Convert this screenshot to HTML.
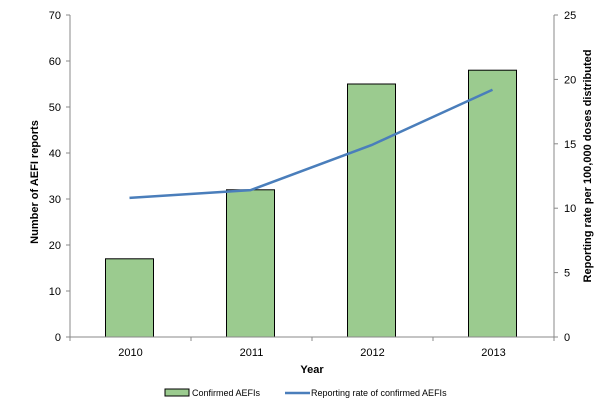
<!DOCTYPE html>
<html><head><meta charset="utf-8"><style>
body{margin:0;background:#fff;}
svg{display:block;font-family:"Liberation Sans",sans-serif;}
</style></head><body>
<svg id="chart" width="600" height="414" viewBox="0 0 600 414"></svg>
<script>
const categories=["2010","2011","2012","2013"];
const confirmedAEFIs=[17,32,55,58];
const reportingRate=[10.8,11.4,14.9,19.2];
const leftTicks=[0,10,20,30,40,50,60,70];
const rightTicks=[0,5,10,15,20,25];
const NS="http://www.w3.org/2000/svg";
const svg=document.getElementById('chart');
const X0=70,X1=554,Y0=337,Y1=15;
const band=(X1-X0)/categories.length;
const yL=v=>Y0-(v/70)*(Y0-Y1);
const yR=v=>Y0-(v/25)*(Y0-Y1);
const xC=i=>X0+band*(i+0.5);
function mk(tag,attrs,txt){const e=document.createElementNS(NS,tag);for(const k in attrs)e.setAttribute(k,attrs[k]);if(txt!=null)e.textContent=txt;svg.appendChild(e);return e;}
confirmedAEFIs.forEach((v,i)=>{
 const r=mk('rect',{x:xC(i)-25,y:yL(v),width:48,height:Y0-yL(v),fill:'#9bcb8f',stroke:'#000','stroke-width':1});
 
 
});
let a=mk('line',{x1:X0,y1:Y1,x2:X0,y2:Y0,stroke:'#888'});


a=mk('line',{x1:X1,y1:Y1,x2:X1,y2:Y0,stroke:'#888'});


a=mk('line',{x1:X0,y1:Y0,x2:X1,y2:Y0,stroke:'#888'});


leftTicks.forEach(t=>{
 mk('line',{x1:X0-4,y1:yL(t),x2:X0,y2:yL(t),stroke:'#888'});
 const l=mk('text',{x:X0-9,y:yL(t)+4,'text-anchor':'end','font-size':11,fill:'#000'},t);
 
 
});
rightTicks.forEach(t=>{
 mk('line',{x1:X1,y1:yR(t),x2:X1+4,y2:yR(t),stroke:'#888'});
 const l=mk('text',{x:X1+10,y:yR(t)+4,'text-anchor':'start','font-size':11,fill:'#000'},t);
 
 
});
for(let i=0;i<=categories.length;i++){mk('line',{x1:X0+band*i,y1:Y0,x2:X0+band*i,y2:Y0+4,stroke:'#888'});}
categories.forEach((c,i)=>{
 const l=mk('text',{x:xC(i),y:Y0+19,'text-anchor':'middle','font-size':11,fill:'#000'},c);
 
 
});
const pts=reportingRate.map((v,i)=>(xC(i)-1)+','+yR(v)).join(' ');
const pl=mk('polyline',{points:pts,fill:'none',stroke:'#4a7ebb','stroke-width':2.5});


let t=mk('text',{x:X0+(X1-X0)/2,y:373,'text-anchor':'middle','font-size':11,'font-weight':'bold'},'Year');


t=mk('text',{x:0,y:0,'text-anchor':'middle','font-size':11,'font-weight':'bold',transform:'translate(38,182) rotate(-90)'},'Number of AEFI reports');


t=mk('text',{x:0,y:0,'text-anchor':'middle','font-size':11,'font-weight':'bold',transform:'translate(591,166) rotate(-90)'},'Reporting rate per 100,000 doses distributed');


let r=mk('rect',{x:165,y:389,width:24,height:7,fill:'#9bcb8f',stroke:'#000'});


t=mk('text',{x:192,y:396,'font-size':9,fill:'#000'},'Confirmed AEFIs');


r=mk('line',{x1:285,y1:393,x2:310,y2:393,stroke:'#4a7ebb','stroke-width':2.5});


t=mk('text',{x:311,y:396,'font-size':9,fill:'#000'},'Reporting rate of confirmed AEFIs');


</script>
</body></html>
